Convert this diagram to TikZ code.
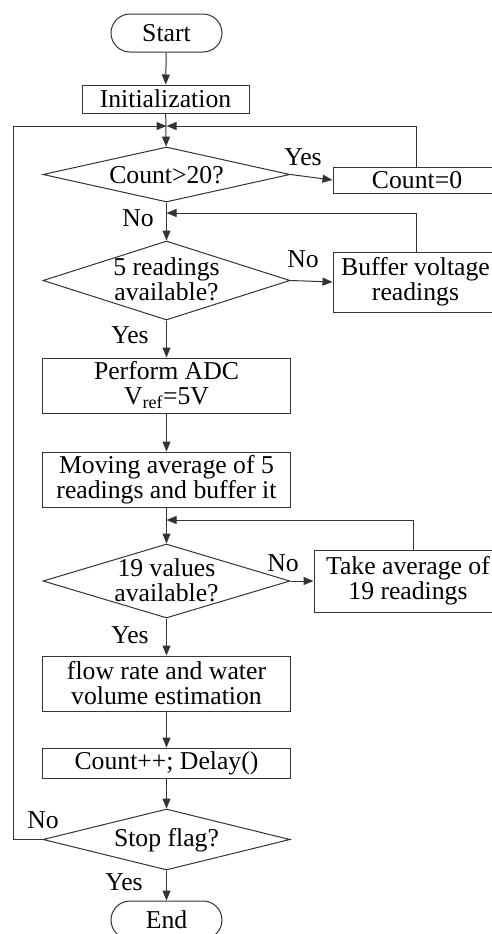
\documentclass[tikz,border=0pt]{standalone}
\usepackage{fontspec}
\setmainfont{Liberation Serif}
\usetikzlibrary{shapes.geometric,shapes.misc,arrows.meta}
\begin{document}
\begin{tikzpicture}[x=1bp,y=-1bp,
  every node/.style={font=\fontsize{25.8}{25}\selectfont, text=black},
  ln/.style={draw=black!80, line width=1bp},
  arr/.style={ln, -{Triangle[length=10bp,width=8bp]}},
  box/.style={ln, rectangle, inner sep=0pt, align=center},
  term/.style={ln, rounded rectangle, inner sep=0pt, minimum width=111bp, minimum height=38bp},
  dec/.style={ln, diamond, inner sep=0pt, minimum width=247bp},
  txt/.style={align=center, inner sep=0pt},
  lab/.style={inner sep=0pt}]
\useasboundingbox (0,0) rectangle (492,934);

\node[term] (start) at (166.5,33) {Start};
\node[box, minimum width=167bp, minimum height=28bp] (init) at (165.5,99) {Initialization};
\coordinate (j1) at (166.5,126);
\node[dec, minimum height=55bp] (d1) at (166.5,174.5) {};
\node[txt] (d1t) at (166.5,175) {Count>20?};
\node[box, minimum width=168bp, minimum height=26bp] (cnt0) at (417,180) {Count=0};
\coordinate (j2) at (166.5,213);
\node[dec, minimum height=79bp] (d2) at (166.5,280.5) {};
\node[txt] (d2t) at (166.5,279.5) {5 readings\\available?};
\node[box, minimum width=165bp, minimum height=60bp] (buf) at (415.5,282) {Buffer voltage\\readings};
\node[box, minimum width=247bp, minimum height=55bp] (adc) at (166.5,385.5) {Perform ADC\\V\textsubscript{ref}=5V};
\node[box, minimum width=247bp, minimum height=55bp] (mov) at (166.5,479.5) {Moving average of 5\\readings and buffer it};
\coordinate (j3) at (166.5,520);
\node[dec, minimum height=74bp] (d3) at (166.5,581) {};
\node[txt] (d3t) at (166.5,580) {19 values\\available?};
\node[box, minimum width=188bp, minimum height=62bp] (take) at (408,581) {Take average of\\19 readings};
\node[box, minimum width=247bp, minimum height=55bp] (flow) at (166.5,683.5) {flow rate and water\\volume estimation};
\node[box, minimum width=247bp, minimum height=30bp] (cntpp) at (166.5,763) {Count++; Delay()};
\node[dec, minimum height=61bp] (d4) at (166.5,839.5) {};
\node[txt] (d4t) at (166.5,840) {Stop flag?};
\node[term] (end) at (166.5,920) {End};
\coordinate (lc) at (13,839.5);
\coordinate (lt) at (13,126);

\draw[arr] (start) -- (init);
\draw[arr] (init) -- (d1);
\draw[arr] (lt) -- (j1);
\draw[arr] (cnt0.north -| 416,0) -- (416,126) -- (j1);
\draw[arr] (d1.east) -- (cnt0.west);
\draw[arr] (d1.south) -- (d2.north);
\draw[arr] (buf.north -| 416,0) -- (416,213) -- (j2);
\draw[arr] (d2.east) -- (buf.west);
\draw[arr] (d2.south) -- (adc.north);
\draw[arr] (adc) -- (mov);
\draw[arr] (mov.south) -- (d3.north);
\draw[arr] (take.north -| 413,0) -- (413,520) -- (j3);
\draw[arr] (d3.east) -- (take.west);
\draw[arr] (d3.south) -- (flow.north);
\draw[arr] (flow) -- (cntpp);
\draw[arr] (cntpp.south) -- (d4.north);
\draw[ln] (d4.west) -- (lc) -- (lt);
\draw[arr] (d4.south) -- (end.north);

\node[lab] (y1) at (303,157) {Yes};
\node[lab] (n1) at (138,218) {No};
\node[lab] (n2) at (303,259) {No};
\node[lab] (y2) at (130,335) {Yes};
\node[lab] (n3) at (283,563) {No};
\node[lab] (y3) at (130,635) {Yes};
\node[lab] (n4) at (43,820) {No};
\node[lab] (y4) at (124,882) {Yes};
\end{tikzpicture}
\end{document}
